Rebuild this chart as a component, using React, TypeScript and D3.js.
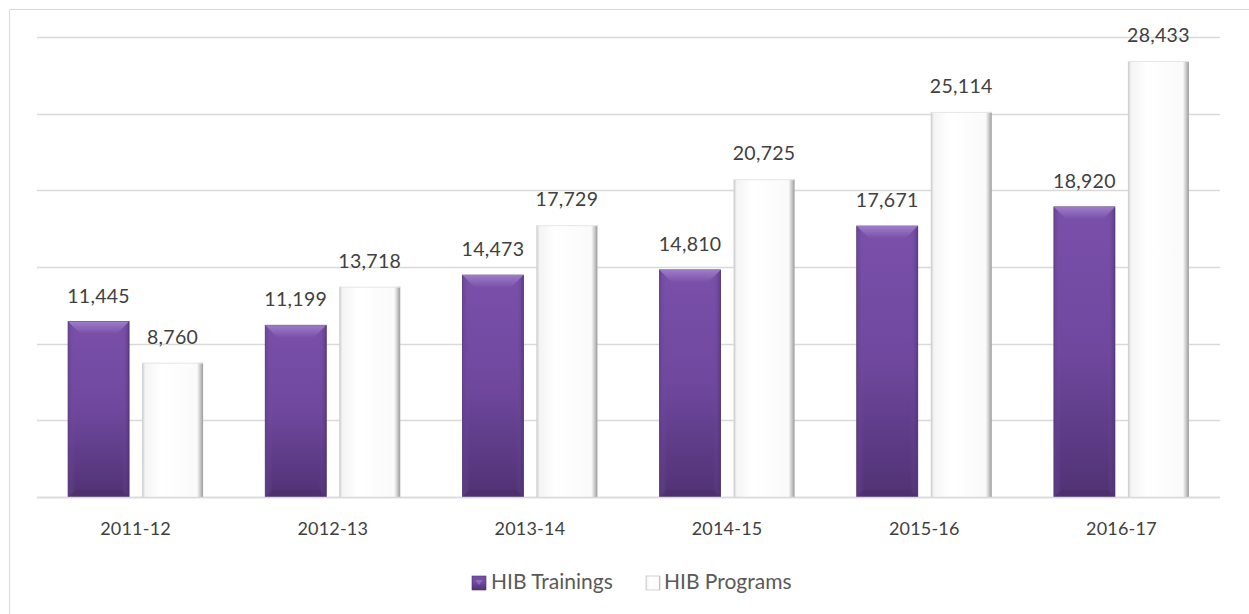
import React from "react";
import * as d3 from "d3";

const categories = ["2011-12", "2012-13", "2013-14", "2014-15", "2015-16", "2016-17"];
const trainings = [11445, 11199, 14473, 14810, 17671, 18920];
const programs = [8760, 13718, 17729, 20725, 25114, 28433];
const yTicks = [0, 5000, 10000, 15000, 20000, 25000, 30000];
const seriesNames = ["HIB Trainings", "HIB Programs"];

export default function App() {
  const W = 1249, H = 614;
  const left = 37, right = 1220, top = 37, bottom = 497;
  const x = d3.scaleBand<string>().domain(categories).range([left, right]).paddingInner(0).paddingOuter(0);
  const y = d3.scaleLinear().domain([0, 30000]).range([bottom, top]);
  const bw = 61, gap = 13;
  const fmt = d3.format(",");
  const font = "Lato, 'Open Sans', sans-serif";
  return (
    <svg width={W} height={H} style={{ position: "absolute", left: 0, top: 0, background: "#fff" }}>
      <defs>
        <linearGradient id="purp" x1="0" y1="0" x2="0" y2="1">
          <stop offset="0" stopColor="#7a50aa" />
          <stop offset="0.5" stopColor="#6f489e" />
          <stop offset="1" stopColor="#503274" />
        </linearGradient>
        <linearGradient id="purpTop" x1="0" y1="0" x2="0" y2="1">
          <stop offset="0" stopColor="#a282cc" />
          <stop offset="1" stopColor="#7a52a9" />
        </linearGradient>
        <linearGradient id="purpSide" x1="0" y1="0" x2="1" y2="0">
          <stop offset="0" stopColor="#5e3d86" stopOpacity="0.6" />
          <stop offset="0.12" stopColor="#7a53a8" stopOpacity="0" />
          <stop offset="0.88" stopColor="#7a53a8" stopOpacity="0" />
          <stop offset="1" stopColor="#4a2f6c" stopOpacity="0.6" />
        </linearGradient>
        <linearGradient id="whiteSide" x1="0" y1="0" x2="1" y2="0">
          <stop offset="0" stopColor="#c8c8c8" />
          <stop offset="0.05" stopColor="#f4f4f4" />
          <stop offset="0.3" stopColor="#ffffff" />
          <stop offset="0.9" stopColor="#fafafa" />
          <stop offset="0.96" stopColor="#c4c4c4" />
          <stop offset="1" stopColor="#9a9a9a" />
        </linearGradient>
      </defs>
      {/* chart border (left and top) */}
      <line x1={9.5} y1={9.5} x2={W} y2={9.5} stroke="#d9d9d9" />
      <line x1={9.5} y1={9.5} x2={9.5} y2={H} stroke="#d9d9d9" />
      {yTicks.map((t) => (
        <line key={t} x1={left} x2={right} y1={Math.round(y(t)) + 0.5} y2={Math.round(y(t)) + 0.5}
          stroke="#d9d9d9" strokeWidth={1.5} />
      ))}
      {categories.map((c, i) => {
        const cx = x(c)! + x.bandwidth() / 2;
        const x1 = cx - gap / 2 - bw;
        const x2 = cx + gap / 2;
        const yt = y(trainings[i]);
        const yp = y(programs[i]);
        const bev = 12;
        return (
          <g key={c}>
            <rect x={x1} y={yt} width={bw} height={bottom - yt} fill="url(#purp)" stroke="#4f3570" strokeWidth={0.8} />
            <rect x={x1} y={yt} width={bw} height={bottom - yt} fill="url(#purpSide)" />
            <path d={`M${x1},${yt} L${x1 + bw},${yt} L${x1 + bw - bev},${yt + bev} L${x1 + bev},${yt + bev} Z`} fill="url(#purpTop)" opacity={0.9} />
            <path d={`M${x1},${bottom} L${x1 + bw},${bottom} L${x1 + bw - bev * 0.6},${bottom - bev * 0.6} L${x1 + bev * 0.6},${bottom - bev * 0.6} Z`} fill="#4a2f6a" opacity={0.6} />
            <rect x={x2} y={yp} width={bw} height={bottom - yp} fill="url(#whiteSide)" />
            <line x1={x2} x2={x2 + bw} y1={yp + 0.5} y2={yp + 0.5} stroke="#e6e6e6" />
            <text x={x1 + bw / 2} y={yt - 19} textAnchor="middle" fontFamily={font} fontSize={19.5} letterSpacing={0.3} fill="#404040">{fmt(trainings[i])}</text>
            <text x={x2 + bw / 2} y={yp - 19} textAnchor="middle" fontFamily={font} fontSize={19.5} letterSpacing={0.3} fill="#404040">{fmt(programs[i])}</text>
            <text x={cx} y={535} textAnchor="middle" fontFamily={font} fontSize={18} letterSpacing={0.2} fill="#404040">{c}</text>
          </g>
        );
      })}
      <line x1={left} x2={right} y1={bottom + 0.5} y2={bottom + 0.5} stroke="#d9d9d9" strokeWidth={1.5} />
      {/* legend */}
      <g>
        <rect x={472} y={576} width={14} height={14} fill="url(#purp)" stroke="#4f3570" strokeWidth={0.6} />
        <path d="M475,580 L483,580 L479,585 Z" fill="#a282cc" opacity={0.6} />
        <text x={491} y={589} fontFamily={font} fontSize={21} fill="#595959">{seriesNames[0]}</text>
        <rect x={646} y={576} width={14} height={14} fill="url(#whiteSide)" stroke="#c8c8c8" strokeWidth={0.8} />
        <text x={664} y={589} fontFamily={font} fontSize={21} fill="#595959">{seriesNames[1]}</text>
      </g>
    </svg>
  );
}
